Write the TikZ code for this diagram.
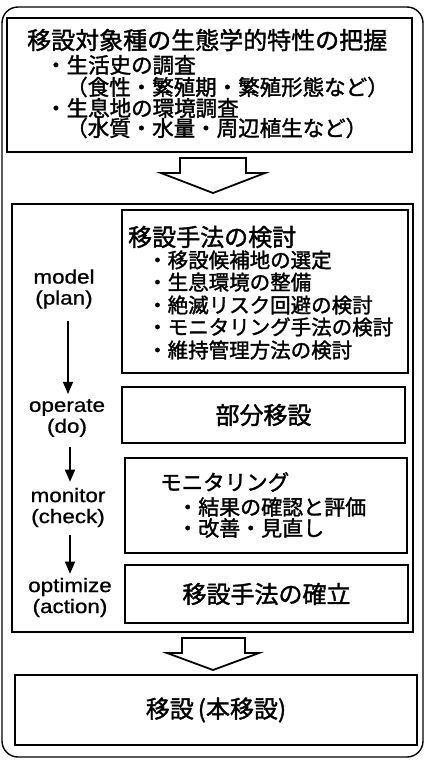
\documentclass[tikz,border=0pt]{standalone}
\usepackage{fontspec}
\setmainfont{Noto Sans CJK JP}[FakeBold=1.6]
\newfontfamily\latinlab{Liberation Sans}[FakeStretch=1.15,FakeBold=0.8]
\usetikzlibrary{arrows.meta}
\newcommand{\fsA}{\fontsize{24}{26}\selectfont}
\newcommand{\fsB}{\fontsize{21.5}{23}\selectfont}
\newcommand{\fsC}{\fontsize{20.5}{22}\selectfont}
\newcommand{\fsD}{\fontsize{21}{22}\selectfont}
\newcommand{\fsL}{\latinlab\fontsize{19.5}{21}\selectfont}
\begin{document}
\begin{tikzpicture}[x=1pt,y=-1pt,
  box/.style={draw, line width=2.2pt, inner sep=0pt},
  ibox/.style={draw, line width=1.8pt, inner sep=0pt},
  txt/.style={inner sep=0pt, anchor=west},
  ctxt/.style={inner sep=0pt},
  lab/.style={inner sep=0pt, align=center, font=\fsL},
  blockarrow/.style={draw, line width=1.8pt, fill=white, line join=miter},
  flow/.style={line width=1.3pt, -{Triangle[width=10pt,length=12pt]}}]
\useasboundingbox (0,0) rectangle (430,764);
% outer rounded frame
\draw[line width=1.4pt, rounded corners=16pt] (2,7) rectangle (423,757);
% top box
\node[box, minimum width=405pt, minimum height=134pt] (top) at (209.5,85) {};
\node[txt, font=\fsA] (t0) at (27,40) {移設対象種の生態学的特性の把握};
\node[txt, font=\fsB] (t1) at (45,65) {・生活史の調査};
\node[txt, font=\fsB] (t2) at (66,87) {（食性・繁殖期・繁殖形態など）};
\node[txt, font=\fsB] (t3) at (45,108) {・生息地の環境調査};
\node[txt, font=\fsB] (t4) at (66,128) {（水質・水量・周辺植生など）};
% block arrow 1
\draw[blockarrow] (180,158) -- (246,158) -- (246,173) -- (265,173) -- (213,193) -- (161,173) -- (180,173) -- cycle;
% middle box
\node[box, minimum width=401pt, minimum height=428pt] (mid) at (212.5,418) {};
% inner boxes
\node[ibox, minimum width=286pt, minimum height=163pt] (plan) at (265,291.5) {};
\node[txt, font=\fsA] (m0) at (128,237) {移設手法の検討};
\node[txt, font=\fsC] (m1) at (147,260) {・移設候補地の選定};
\node[txt, font=\fsC] (m2) at (147,282) {・生息環境の整備};
\node[txt, font=\fsC] (m3) at (147,305) {・絶滅リスク回避の検討};
\node[txt, font=\fsC] (m4) at (147,327) {・モニタリング手法の検討};
\node[txt, font=\fsC] (m5) at (147,350) {・維持管理方法の検討};
\node[ibox, minimum width=283pt, minimum height=56pt, font=\fsA] (do) at (263.5,415) {部分移設};
\node[ibox, minimum width=282pt, minimum height=95pt] (check) at (266,505.5) {};
\node[txt, font=\fsB] (c0) at (160,482) {モニタリング};
\node[txt, font=\fsD] (c1) at (177,507) {・結果の確認と評価};
\node[txt, font=\fsD] (c2) at (177,528) {・改善・見直し};
\node[ibox, minimum width=283pt, minimum height=58pt, font=\fsA] (act) at (266.5,594) {移設手法の確立};
% left labels
\node[lab] (lmodel) at (64,289) {model\\(plan)};
\node[lab] (loperate) at (67,418) {operate\\(do)};
\node[lab] (lmonitor) at (68,507.5) {monitor\\(check)};
\node[lab] (loptimize) at (70,597.5) {optimize\\(action)};
\draw[flow, shorten <=12pt, shorten >=5pt] (lmodel.south -| 68,0) -- (loperate.north -| 68,0);
\draw[flow, shorten <=10pt, shorten >=6pt] (loperate.south -| 70,0) -- (lmonitor.north -| 70,0);
\draw[flow, shorten <=8pt, shorten >=4pt] (lmonitor.south -| 70,0) -- (loptimize.north -| 70,0);
% block arrow 2
\draw[blockarrow] (182,638) -- (245,638) -- (245,653) -- (259,653) -- (213,670) -- (167,653) -- (182,653) -- cycle;
% bottom box
\node[box, minimum width=402pt, minimum height=70pt, font=\fsA] (final) at (216,710) {移設\,(本移設)};
\end{tikzpicture}
\end{document}
